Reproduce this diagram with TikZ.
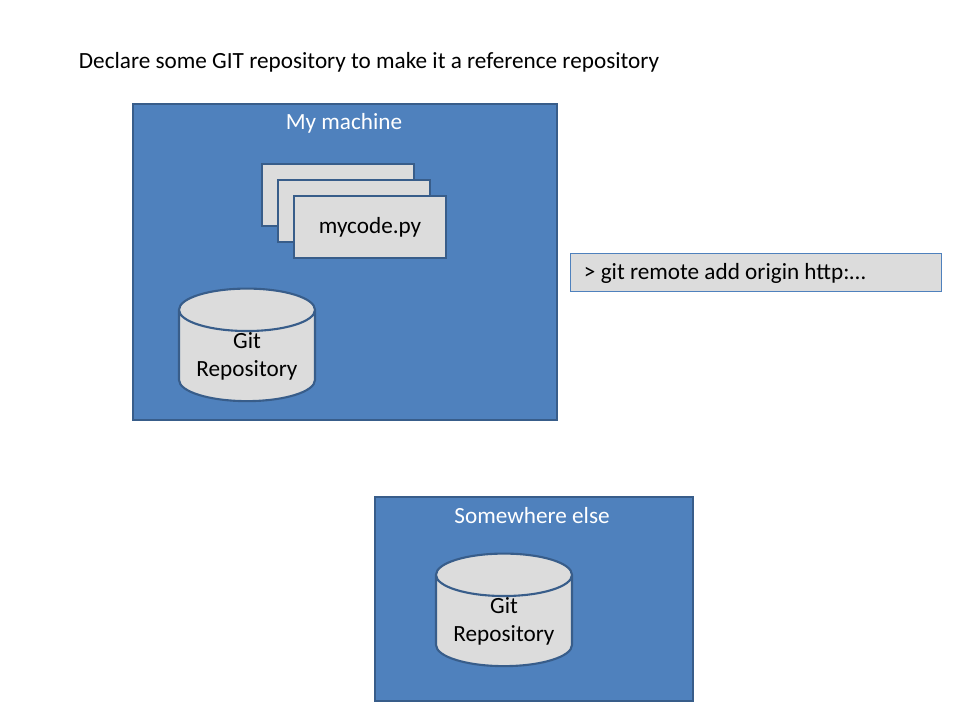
\documentclass[tikz,border=0pt]{standalone}
\usepackage{fontspec}
\setmainfont{Carlito}
\usetikzlibrary{shapes.geometric}

\definecolor{boxblue}{HTML}{4F81BD}
\definecolor{edgeblue}{HTML}{385D8A}
\definecolor{sheetgray}{HTML}{DCDCDC}

\tikzset{
  machine/.style={draw=edgeblue, line width=1.5pt, fill=boxblue, anchor=north west, inner sep=0pt},
  title/.style={text=white, font=\fontsize{16.5}{20}\selectfont},
  sheet/.style={draw=edgeblue, line width=1.5pt, fill=sheetgray, minimum width=3.8cm, minimum height=1.55cm, anchor=north west, inner sep=0pt, font=\fontsize{16.5}{20}\selectfont},
  repo/.style={cylinder, shape border rotate=90, aspect=0.42, draw=edgeblue, line width=1.5pt, fill=sheetgray, minimum width=3.4cm, minimum height=2.45cm, inner sep=0pt, align=center, font=\fontsize{16.5}{20}\selectfont},
}

\begin{document}
\begin{tikzpicture}[x=0.025cm, y=-0.025cm]
  \useasboundingbox[fill=white] (0,0) rectangle (960,720);
  \node (head) [anchor=west, font=\fontsize{16.5}{20}\selectfont] at (74,62) {Declare some GIT repository to make it a reference repository};

  \node (mine) [machine, minimum width=10.6cm, minimum height=7.9cm] at (132,103) {};
  \node (minetitle) [title] at (344,123) {My machine};
  \node (sheet1) [sheet] at (261,163) {};
  \node (sheet2) [sheet] at (277,179) {};
  \node (sheet3) [sheet] at (293,195) {mycode.py};
  \node (repo1) [repo] at (247,356) {Git\\Repository};

  \node (cmd) [draw=boxblue, fill=sheetgray, minimum width=9.28cm, minimum height=0.95cm, anchor=north west, inner sep=0pt, font=\fontsize{16.5}{20}\selectfont] at (569.5,253) {};
  \node (cmdtext) [anchor=west, font=\fontsize{16.5}{20}\selectfont] at (579,273) {> git remote add origin http:\dots};

  \node (else) [machine, minimum width=7.95cm, minimum height=5.1cm] at (374,496) {};
  \node (elsetitle) [title] at (532,516) {Somewhere else};
  \node (repo2) [repo] at (504,621) {Git\\Repository};
\end{tikzpicture}
\end{document}
